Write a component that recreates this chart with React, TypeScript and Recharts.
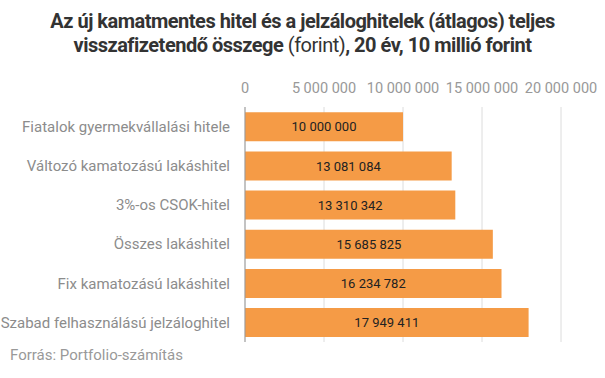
import { BarChart, Bar, XAxis, YAxis, CartesianGrid, LabelList } from "recharts";

const categories = [
  "Fiatalok gyermekvállalási hitele",
  "Változó kamatozású lakáshitel",
  "3%-os CSOK-hitel",
  "Összes lakáshitel",
  "Fix kamatozású lakáshitel",
  "Szabad felhasználású jelzáloghitel",
];
const values = [10000000, 13081084, 13310342, 15685825, 16234782, 17949411];
const xTicks = [0, 5000000, 10000000, 15000000, 20000000];

const fmt = (n: number) => String(n).replace(/\B(?=(\d{3})+(?!\d))/g, " ");

const data = categories.map((name, i) => ({ name, value: values[i] }));

const font = "Roboto, 'Noto Sans', sans-serif";

export default function App() {
  return (
    <div style={{ position: "absolute", left: 0, top: 0, width: 605, height: 378, background: "#fff", fontFamily: font }}>
      <div
        style={{
          position: "absolute",
          left: 0,
          top: 9,
          width: 605,
          textAlign: "center",
          fontSize: 20,
          lineHeight: "24px",
          fontWeight: 700,
          color: "#333",
          letterSpacing: -0.5,
        }}
      >
        Az új kamatmentes hitel és a jelzáloghitelek (átlagos) teljes
        <br />
        visszafizetendő összege <span style={{ fontWeight: 400 }}>(forint)</span>, 20 év, 10 millió forint
      </div>
      <BarChart
        width={605}
        height={378}
        data={data}
        layout="vertical"
        margin={{ top: 77, right: 44, bottom: 36, left: 0 }}
        barCategoryGap="13.5%"
      >
        <CartesianGrid horizontal={false} stroke="#dcdcdc" />
        <XAxis
          type="number"
          orientation="top"
          domain={[0, 20000000]}
          ticks={xTicks}
          tickFormatter={fmt}
          height={30}
          axisLine={false}
          tickLine={false}
          tickSize={0}
          tickMargin={14}
          interval={0}
          tick={{ fontSize: 14.5, fill: "#999", fontFamily: font }}
        />
        <YAxis
          type="category"
          dataKey="name"
          width={245}
          axisLine={{ stroke: "#999" }}
          tickLine={false}
          tickSize={0}
          tickMargin={15}
          interval={0}
          tick={{ fontSize: 15, fill: "#8c8c8c", fontFamily: font }}
        />
        <Bar dataKey="value" fill="#F59B46" isAnimationActive={false}>
          <LabelList
            dataKey="value"
            position="center"
            formatter={(v: number) => fmt(v)}
            style={{ fontSize: 13, fill: "#222", fontFamily: font }}
          />
        </Bar>
      </BarChart>
      <div style={{ position: "absolute", left: 10, top: 346, fontSize: 15, color: "#999" }}>
        Forrás: Portfolio-számítás
      </div>
    </div>
  );
}
